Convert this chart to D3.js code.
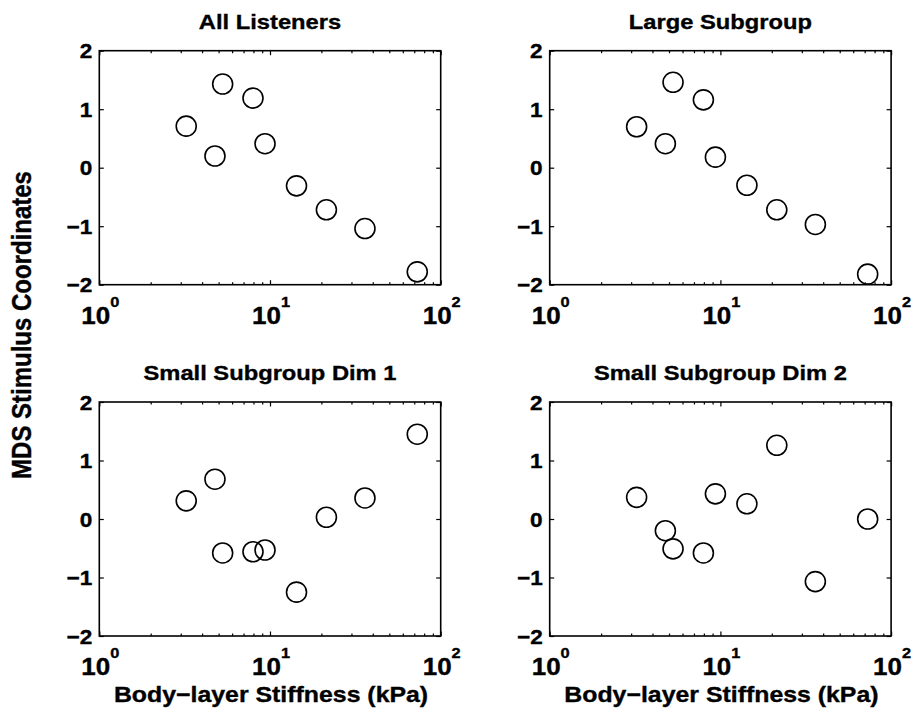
<!DOCTYPE html>
<html>
<head>
<meta charset="utf-8">
<script src="https://cdn.jsdelivr.net/npm/d3@7"></script>
<style>
  html, body { margin: 0; padding: 0; background: #fff; }
  svg { display: block; }
  text { font-family: "Liberation Sans", Arial, Helvetica, sans-serif; font-weight: bold; fill: #000; stroke: #000; stroke-width: 0.35px; }
</style>
</head>
<body>
<svg id="chart" width="912" height="712"></svg>
<script>
// ---- data ----
const stiffness = [3.23, 4.76, 5.28, 7.95, 9.35, 14.3, 21.4, 36.0, 72.9];
const allListeners = [0.71, 0.20, 1.43, 1.19, 0.41, -0.31, -0.72, -1.04, -1.78];
const largeSubgroup = [0.70, 0.41, 1.46, 1.16, 0.18, -0.30, -0.72, -0.97, -1.82];
const smallDim1 = [0.31, 0.68, -0.58, -0.56, -0.53, -1.25, 0.03, 0.36, 1.45];
const smallDim2 = [0.37, -0.20, -0.51, -0.58, 0.43, 0.26, 1.26, -1.07, 0.00];
const panelTitles = ["All Listeners", "Large Subgroup", "Small Subgroup Dim 1", "Small Subgroup Dim 2"];
const panelSeries = [allListeners, largeSubgroup, smallDim1, smallDim2];
const yTickValues = [-2, -1, 0, 1, 2];
const xTickExponents = [0, 1, 2];
const xLabel = "Body\u2212layer Stiffness (kPa)";
const yLabel = "MDS Stimulus Coordinates";

// ---- layout ----
const svg = d3.select("#chart");
const SX = 1.13; // horizontal glyph stretch
const colLeft = [99.3, 549.7];
const rowTop = [50.7, 402];
const W = 341.4, H = 234;

function stretchedText(g, x, y, str, size, anchor) {
  return g.append("text")
    .attr("transform", `translate(${x},${y}) scale(${SX},1)`)
    .attr("text-anchor", anchor || "middle")
    .style("font-size", size + "px")
    .text(str);
}

panelSeries.forEach((vals, i) => {
  const col = i % 2, row = Math.floor(i / 2);
  const g = svg.append("g").attr("transform", `translate(${colLeft[col]},${rowTop[row]})`);
  const x = d3.scaleLog().domain([1, 100]).range([0, W]);
  const y = d3.scaleLinear().domain([-2, 2]).range([H, 0]);

  const minor = [];
  [1, 10].forEach(d => { for (let k = 2; k <= 9; k++) minor.push(d * k); });
  const major = xTickExponents.map(e => Math.pow(10, e));

  g.append("g").attr("transform", `translate(0,${H})`)
    .call(d3.axisBottom(x).tickValues(minor).tickSize(-2.5).tickFormat(""));
  g.append("g")
    .call(d3.axisTop(x).tickValues(minor).tickSize(-2.5).tickFormat(""));
  g.append("g").attr("transform", `translate(0,${H})`)
    .call(d3.axisBottom(x).tickValues(major).tickSize(-4.5).tickFormat(""));
  g.append("g")
    .call(d3.axisTop(x).tickValues(major).tickSize(-4.5).tickFormat(""));
  g.append("g")
    .call(d3.axisLeft(y).tickValues(yTickValues).tickSize(-4.5).tickFormat(""));
  g.append("g").attr("transform", `translate(${W},0)`)
    .call(d3.axisRight(y).tickValues(yTickValues).tickSize(-4.5).tickFormat(""));

  g.selectAll(".domain").remove();
  g.selectAll(".tick line").attr("stroke", "#000").attr("stroke-width", 1.2);

  g.append("rect").attr("x", 0).attr("y", 0).attr("width", W).attr("height", H)
    .attr("fill", "none").attr("stroke", "#000").attr("stroke-width", 1.6);

  yTickValues.forEach(v => {
    const s = v < 0 ? "\u2212" + Math.abs(v) : String(v);
    stretchedText(g, -7, y(v) + 7.5, s, 20, "end");
  });

  xTickExponents.forEach(e => {
    const t = g.append("text")
      .attr("transform", `translate(${x(Math.pow(10, e)) + 1},${H + 39}) scale(${SX},1)`)
      .attr("text-anchor", "middle")
      .style("font-size", "23px");
    t.append("tspan").text("10");
    t.append("tspan").attr("dy", -17).style("font-size", "14.5px").text(String(e));
  });

  stretchedText(g, W / 2, -22, panelTitles[i], 21);

  if (row === 1) stretchedText(g, W / 2 + 1, H + 66, xLabel, 22);

  g.selectAll("circle.pt").data(vals.map((v, k) => [stiffness[k], v]))
    .enter().append("circle").attr("class", "pt")
    .attr("cx", d => x(d[0])).attr("cy", d => y(d[1])).attr("r", 10)
    .attr("fill", "none").attr("stroke", "#000").attr("stroke-width", 1.6);
});

svg.append("text")
  .attr("transform", `translate(31,325) scale(${SX},1) rotate(-90)`)
  .attr("text-anchor", "middle")
  .style("font-size", "24px")
  .text(yLabel);
</script>
</body>
</html>
